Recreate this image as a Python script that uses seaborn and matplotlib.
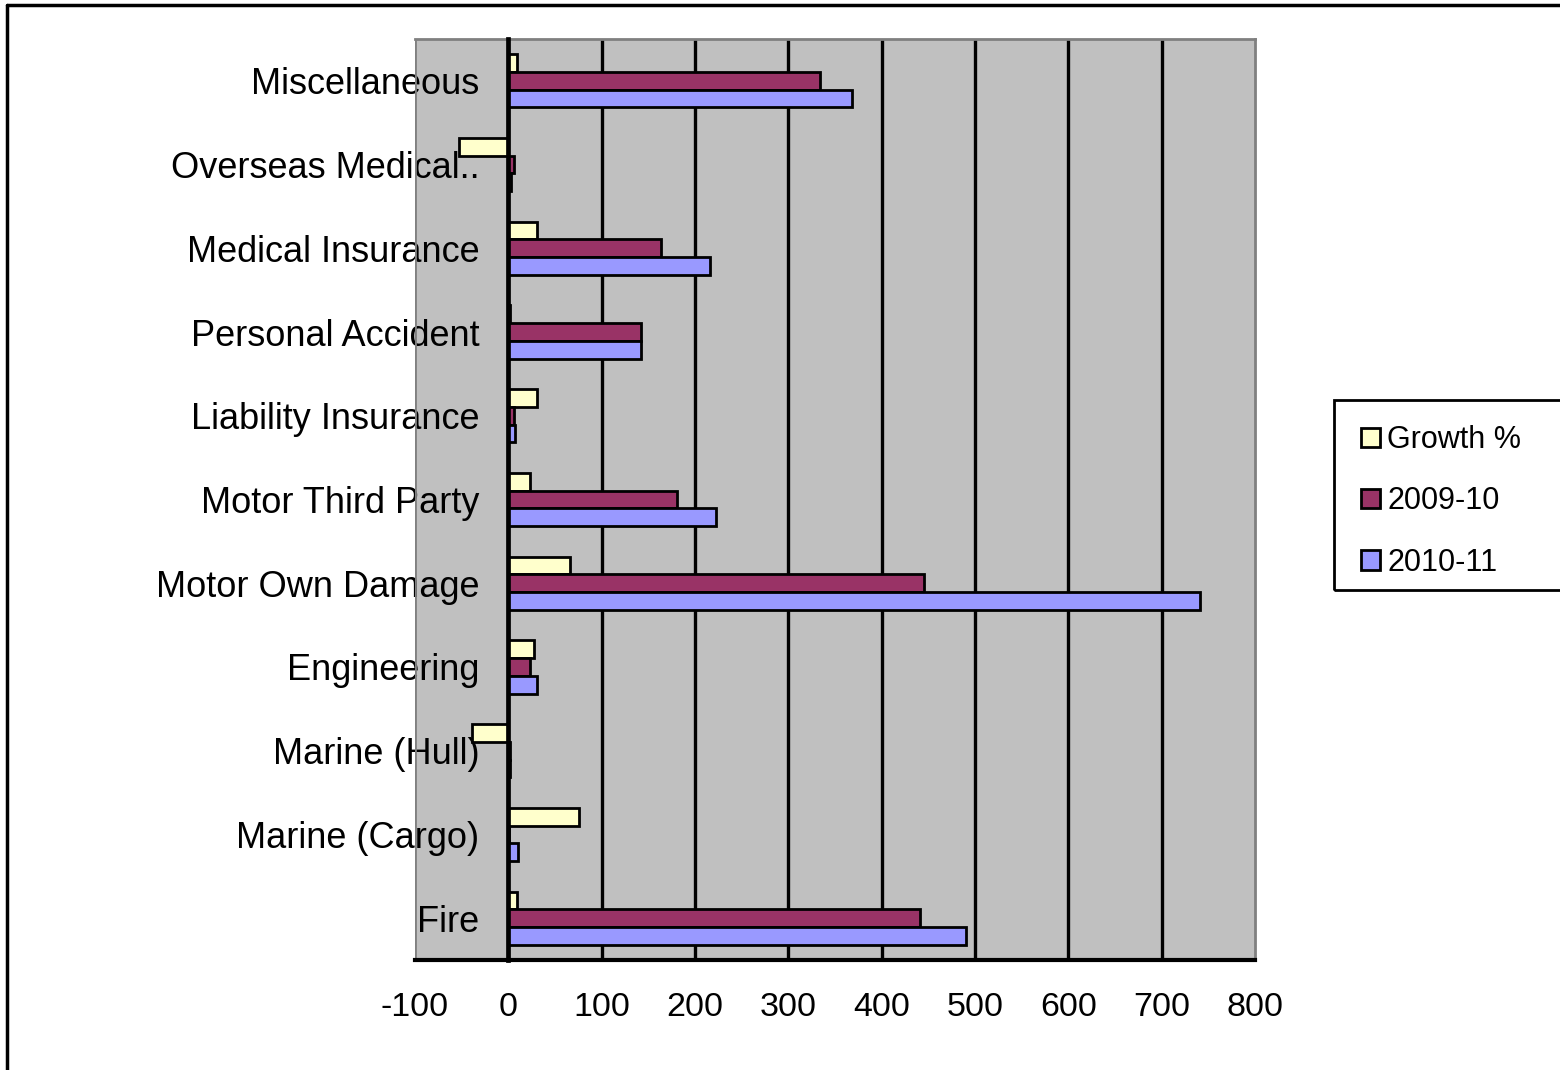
import numpy as np
import pandas as pd
import matplotlib
matplotlib.use("Agg")
import matplotlib.pyplot as plt
import seaborn as sns
from matplotlib.patches import Patch, Rectangle
from matplotlib.lines import Line2D

# Insurance lines, listed top to bottom
categories = ["Miscellaneous", "Overseas Medical..", "Medical Insurance",
              "Personal Accident", "Liability Insurance", "Motor Third Party",
              "Motor Own Damage", "Engineering", "Marine (Hull)",
              "Marine (Cargo)", "Fire"]
growth_pct = [9.6, -53, 31, 1.5, 31, 23, 66, 27, -39, 76, 9]
premium_2009_10 = [334, 6, 164, 142, 6, 181, 445, 23, 2, 1, 441]
premium_2010_11 = [368, 3, 216, 142, 7, 222, 741, 31, 2, 10, 490]

series_names = ["Growth %", "2009-10", "2010-11"]
series_colors = ["#FFFFCC", "#993366", "#9999FF"]
x_ticks = list(range(-100, 801, 100))

df = pd.DataFrame({
    "category": categories * 3,
    "series": [s for s in series_names for _ in categories],
    "value": growth_pct + premium_2009_10 + premium_2010_11,
})

sns.set_style("white")
plt.rcParams["font.family"] = ["Liberation Sans", "DejaVu Sans"]
plt.rcParams["text.color"] = "black"

W, H = 1560, 1070
fig = plt.figure(figsize=(W / 100, H / 100), dpi=100)
ax = fig.add_axes([415 / W, (H - 960) / H, (1255 - 415) / W, (960 - 39) / H])
ax.set_facecolor("#C0C0C0")

sns.barplot(data=df, x="value", y="category", hue="series",
            hue_order=series_names, order=categories, palette=series_colors,
            orient="h", width=0.635, saturation=1, edgecolor="black",
            linewidth=2, errorbar=None, legend=False, ax=ax, zorder=3)

n = len(categories)
ax.set_xlim(x_ticks[0], x_ticks[-1])
ax.set_ylim(n - 0.5, -0.5)
ax.set_xlabel("")
ax.set_ylabel("")

# vertical gridlines between the plot borders
for t in x_ticks[1:-1]:
    if t != 0:
        ax.axvline(t, color="black", lw=2.4, zorder=1)

ax.set_xticks(x_ticks)
ax.set_xticklabels([str(t) for t in x_ticks])
ax.set_yticks(np.arange(-0.5, n, 1.0), minor=True)

# value axis crosses at zero
ax.spines["left"].set_position(("data", 0))
ax.spines["left"].set_color("black")
ax.spines["left"].set_linewidth(3.4)
ax.spines["left"].set_zorder(5)
for side in ("top", "right"):
    ax.spines[side].set_color("#808080")
    ax.spines[side].set_linewidth(2)
ax.spines["bottom"].set_color("black")
ax.spines["bottom"].set_linewidth(3)
ax.add_line(Line2D([0, 0], [0, 1], transform=ax.transAxes,
                   color="#808080", lw=2, zorder=2))

ax.tick_params(axis="y", which="major", length=0, pad=21, labelsize=26,
               labelcolor="black")
ax.tick_params(axis="y", which="minor", length=9, width=2.4,
               color="black", direction="out")
ax.tick_params(axis="x", length=8, width=2.4, color="black",
               direction="out", pad=15, labelsize=24.5, labelcolor="black")

# legend
handles = [Patch(facecolor=c, edgecolor="black", linewidth=2)
           for c in series_colors]
fig.legend(handles, series_names, loc="upper left",
           bbox_to_anchor=(1346 / W, (H - 410) / H), frameon=False,
           fontsize=22, handlelength=0.6, handleheight=0.6,
           handletextpad=0.25, labelspacing=1.02, borderpad=0,
           labelcolor="black")
fig.add_artist(Rectangle((1334 / W, (H - 590) / H), 0.2, 190 / H,
                         transform=fig.transFigure, fill=False,
                         edgecolor="black", lw=2, clip_on=False))

# outer chart frame
fig.add_artist(Line2D([7 / W, 7 / W], [-0.1, (H - 5) / H],
                      transform=fig.transFigure, color="black", lw=2.5))
fig.add_artist(Line2D([7 / W, 1.1], [(H - 5) / H, (H - 5) / H],
                      transform=fig.transFigure, color="black", lw=2.5))

fig.savefig("out.png", dpi=100)
